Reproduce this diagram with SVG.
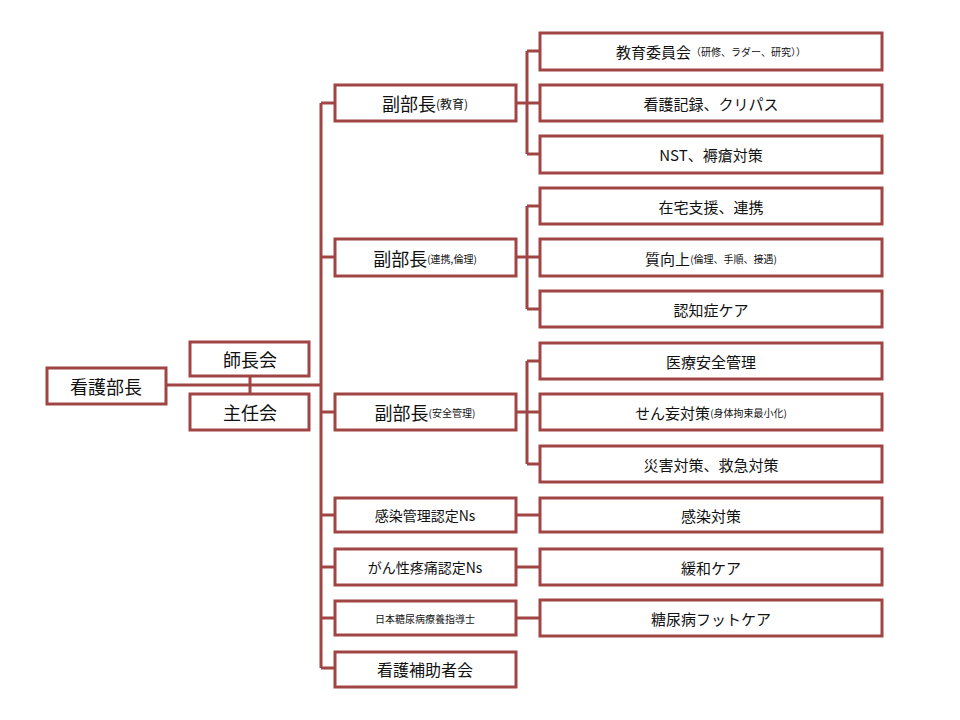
<svg xmlns="http://www.w3.org/2000/svg" width="960" height="720" viewBox="0 0 960 720">
<style>
.b{fill:#fff;stroke:#a04444;stroke-width:3}
.c{fill:none;stroke:#a04444;stroke-width:3}
text{font-family:"Noto Sans CJK JP","Liberation Sans",sans-serif;font-size:16px;fill:#111;text-anchor:middle;dominant-baseline:central}
.s{font-size:10px}
</style>
<rect width="960" height="720" fill="#fff"/>
<g id="connectors">
<path class="c" d="M166 385H321M250 376V394M321 103V668"/>
<path class="c" d="M321 103H335M321 257H335M321 412H335M321 515H335M321 567H335M321 618H335M321 668H335"/>
<path class="c" d="M516 103H527M527 51V154M527 51H540M527 103H540M527 154H540"/>
<path class="c" d="M516 257H527M527 206V309M527 206H540M527 257H540M527 309H540"/>
<path class="c" d="M516 412H527M527 361V464M527 361H540M527 412H540M527 464H540"/>
<path class="c" d="M516 515H540M516 567H540M516 618H540"/>
</g>
<g id="n-head"><rect class="b" x="47" y="368" width="119" height="36"/><text x="106" y="386" style="font-size:18px">看護部長</text></g>
<g id="n-shicho"><rect class="b" x="190" y="342" width="119" height="34"/><text x="250" y="359" style="font-size:18px">師長会</text></g>
<g id="n-shunin"><rect class="b" x="190" y="394" width="119" height="36"/><text x="250" y="412" style="font-size:18px">主任会</text></g>
<g id="n-fk1"><rect class="b" x="335" y="85" width="181" height="36"/><text x="425" y="103"><tspan style="font-size:18px">副部長</tspan><tspan style="font-size:12px">(教育)</tspan></text></g>
<g id="n-fk2"><rect class="b" x="335" y="239" width="181" height="37"/><text x="425" y="258"><tspan style="font-size:18px">副部長</tspan><tspan class="s">(連携,倫理)</tspan></text></g>
<g id="n-fk3"><rect class="b" x="335" y="394" width="181" height="36"/><text x="425" y="412"><tspan style="font-size:18px">副部長</tspan><tspan class="s">(安全管理)</tspan></text></g>
<g id="n-kansen"><rect class="b" x="335" y="498" width="181" height="34"/><text x="425" y="515" style="font-size:14px">感染管理認定Ns</text></g>
<g id="n-gan"><rect class="b" x="335" y="549" width="181" height="36"/><text x="425" y="567" style="font-size:14px">がん性疼痛認定Ns</text></g>
<g id="n-tonyo"><rect class="b" x="335" y="601" width="181" height="34"/><text x="425" y="618" class="s">日本糖尿病療養指導士</text></g>
<g id="n-hojo"><rect class="b" x="335" y="652" width="181" height="35"/><text x="425" y="669">看護補助者会</text></g>
<g id="r1"><rect class="b" x="540" y="33" width="342" height="37"/><text x="711" y="51"><tspan style="font-size:15px">教育委員会</tspan><tspan class="s">（研修、ラダー、研究））</tspan></text></g>
<g id="r2"><rect class="b" x="540" y="85" width="342" height="36"/><text x="711" y="103" style="font-size:15px">看護記録、クリパス</text></g>
<g id="r3"><rect class="b" x="540" y="136" width="342" height="37"/><text x="711" y="154" style="font-size:15px">NST、褥瘡対策</text></g>
<g id="r4"><rect class="b" x="540" y="188" width="342" height="36"/><text x="711" y="206" style="font-size:15px">在宅支援、連携</text></g>
<g id="r5"><rect class="b" x="540" y="239" width="342" height="37"/><text x="711" y="258"><tspan style="font-size:15px">質向上</tspan><tspan class="s">(倫理、手順、接遇)</tspan></text></g>
<g id="r6"><rect class="b" x="540" y="291" width="342" height="36"/><text x="711" y="309" style="font-size:15px">認知症ケア</text></g>
<g id="r7"><rect class="b" x="540" y="343" width="342" height="36"/><text x="711" y="361" style="font-size:15px">医療安全管理</text></g>
<g id="r8"><rect class="b" x="540" y="394" width="342" height="36"/><text x="711" y="412"><tspan style="font-size:15px">せん妄対策</tspan><tspan class="s">(身体拘束最小化)</tspan></text></g>
<g id="r9"><rect class="b" x="540" y="446" width="342" height="36"/><text x="711" y="464" style="font-size:15px">災害対策、救急対策</text></g>
<g id="r10"><rect class="b" x="540" y="498" width="342" height="34"/><text x="711" y="515" style="font-size:15px">感染対策</text></g>
<g id="r11"><rect class="b" x="540" y="549" width="342" height="36"/><text x="711" y="567" style="font-size:15px">緩和ケア</text></g>
<g id="r12"><rect class="b" x="540" y="600" width="342" height="36"/><text x="711" y="618" style="font-size:15px">糖尿病フットケア</text></g>
</svg>
